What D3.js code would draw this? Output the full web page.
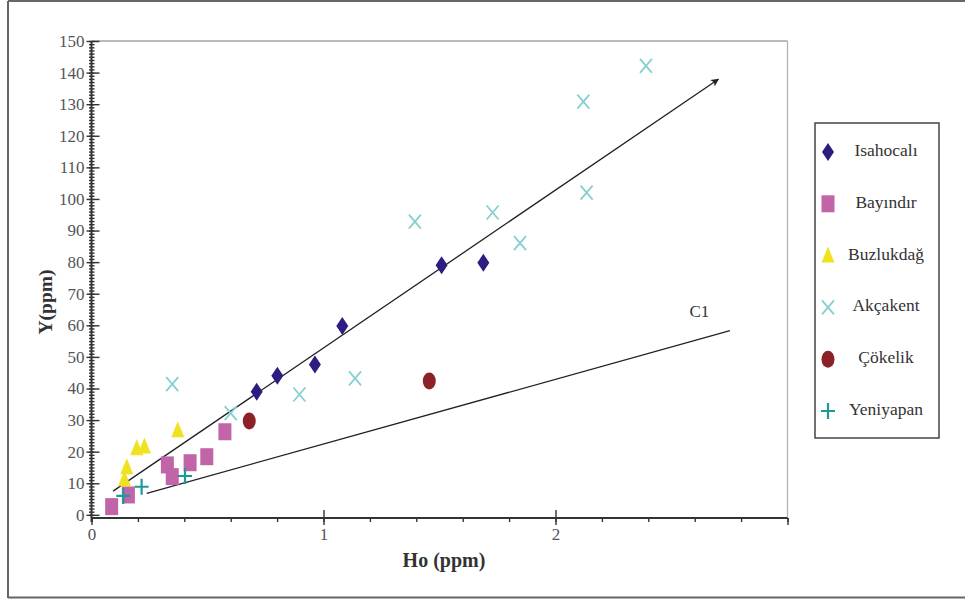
<!DOCTYPE html>
<html>
<head>
<meta charset="utf-8">
<script src="https://cdn.jsdelivr.net/npm/d3@7"></script>
<style>
  html, body { margin: 0; padding: 0; background: #fff; }
  svg { display: block; }
  text { font-family: "Liberation Serif", "Times New Roman", serif; }
</style>
</head>
<body>
<svg id="chart" width="965" height="599"></svg>
<script>
// ---- data (Ho ppm, Y ppm) ----
const isahocali = [[0.712, 39.0], [0.801, 44.0], [0.963, 47.6], [1.081, 59.8], [1.509, 79.0], [1.689, 79.8]];
const bayindir = [[0.087, 2.6], [0.159, 6.3], [0.327, 15.8], [0.348, 12.1], [0.425, 16.5], [0.497, 18.4], [0.575, 26.3]];
const buzlukdag = [[0.142, 11.3], [0.152, 15.1], [0.195, 21.1], [0.228, 21.6], [0.372, 26.8]];
const akcakent = [[0.348, 41.4], [0.600, 32.2], [0.896, 38.1], [1.136, 43.2], [1.394, 92.8], [1.729, 95.7], [1.847, 86.0], [2.120, 130.8], [2.134, 102.0], [2.390, 142.1]];
const cokelik = [[0.680, 29.7], [1.456, 42.4]];
const yeniyapan = [[0.137, 6.0], [0.216, 8.9], [0.403, 12.3]];
const trendArrow = [[0.093, 7.5], [2.702, 137.9]];
const c1Line = [[0.238, 6.8], [2.752, 58.3]];
const c1Label = { x: 2.62, y: 64, text: "C1" };
const seriesNames = ["Isahocalı", "Bayındır", "Buzlukdağ", "Akçakent", "Çökelik", "Yeniyapan"];
const xTickLabels = [0, 1, 2];
const yTickLabels = [0, 10, 20, 30, 40, 50, 60, 70, 80, 90, 100, 110, 120, 130, 140, 150];
const xTitle = "Ho (ppm)";
const yTitle = "Y(ppm)";

// ---- styles ----
const colors = {
  "Isahocalı": "#2e1c80",
  "Bayındır": "#c264a8",
  "Buzlukdağ": "#f0e21e",
  "Akçakent": "#86d0d0",
  "Çökelik": "#8c2228",
  "Yeniyapan": "#1e9898"
};

const svg = d3.select("#chart");
const x = d3.scaleLinear().domain([0, 3]).range([91.5, 787.5]);
const y = d3.scaleLinear().domain([-1, 150]).range([518, 41]);

// outer border
svg.append("line").attr("x1", 8).attr("x2", 965).attr("y1", 1).attr("y2", 1).attr("stroke", "#666").attr("stroke-width", 2);
svg.append("line").attr("x1", 8).attr("x2", 8).attr("y1", 1).attr("y2", 598).attr("stroke", "#666").attr("stroke-width", 2);
svg.append("line").attr("x1", 8).attr("x2", 965).attr("y1", 597.5).attr("y2", 597.5).attr("stroke", "#666").attr("stroke-width", 2);

// plot frame (top & right)
svg.append("line").attr("x1", x(0)).attr("x2", x(3)).attr("y1", y(150)).attr("y2", y(150)).attr("stroke", "#9aa6ac").attr("stroke-width", 1.3);
svg.append("line").attr("x1", x(3)).attr("x2", x(3)).attr("y1", y(150)).attr("y2", y(-1)).attr("stroke", "#aab4ba").attr("stroke-width", 1.3);

const axisColor = "#333";
// y axis
const yMinor = svg.append("g").attr("transform", `translate(${x(0)},0)`)
  .call(d3.axisLeft(y).tickValues(d3.range(0, 151, 1)).tickSize(2.5).tickFormat(""));
const yMinorIn = svg.append("g").attr("transform", `translate(${x(0)},0)`)
  .call(d3.axisRight(y).tickValues(d3.range(0, 151, 1)).tickSize(3).tickFormat(""));
const yMajor = svg.append("g").attr("transform", `translate(${x(0)},0)`)
  .call(d3.axisLeft(y).tickValues(yTickLabels).tickSize(5).tickPadding(2));
const yMajorIn = svg.append("g").attr("transform", `translate(${x(0)},0)`)
  .call(d3.axisRight(y).tickValues(yTickLabels).tickSize(8).tickFormat(""));
[yMinor, yMinorIn, yMajor, yMajorIn].forEach(g => {
  g.select(".domain").remove();
  g.selectAll(".tick line").attr("stroke", axisColor).attr("stroke-width", 1.4);
});
yMajor.selectAll(".tick text").attr("fill", "#555").style("font-size", "17px").style("font-family", "Liberation Serif, serif");
svg.append("line").attr("x1", x(0)).attr("x2", x(0)).attr("y1", y(150)).attr("y2", y(-1) + 4).attr("stroke", axisColor).attr("stroke-width", 2);

// x axis
const xMinor = svg.append("g").attr("transform", `translate(0,${y(-1)})`)
  .call(d3.axisBottom(x).tickValues(d3.range(0, 3.01, 0.2)).tickSize(4).tickFormat(""));
const xMajor = svg.append("g").attr("transform", `translate(0,${y(-1)})`)
  .call(d3.axisBottom(x).tickValues([0, 1, 2, 3]).tickSize(7).tickPadding(3).tickFormat(d => xTickLabels.includes(d) ? d : ""));
const xMajorIn = svg.append("g").attr("transform", `translate(0,${y(-1)})`)
  .call(d3.axisTop(x).tickValues([1, 2]).tickSize(8).tickFormat(""));
[xMinor, xMajor, xMajorIn].forEach(g => {
  g.select(".domain").remove();
  g.selectAll(".tick line").attr("stroke", axisColor).attr("stroke-width", 1.4);
});
xMajor.selectAll(".tick text").attr("fill", "#555").style("font-size", "17px").style("font-family", "Liberation Serif, serif");
svg.append("line").attr("x1", x(0)).attr("x2", x(3)).attr("y1", y(-1)).attr("y2", y(-1)).attr("stroke", axisColor).attr("stroke-width", 2);

// axis titles
svg.append("text").attr("x", 444).attr("y", 567).attr("text-anchor", "middle")
  .attr("fill", "#333").style("font-size", "20px").style("font-weight", "bold").text(xTitle);
svg.append("text").attr("transform", "translate(52,302) rotate(-90)").attr("text-anchor", "middle")
  .attr("fill", "#333").style("font-size", "19.5px").style("font-weight", "bold").text(yTitle);

// reference lines
const defs = svg.append("defs");
defs.append("marker").attr("id", "arrow").attr("viewBox", "0 0 10 10").attr("refX", 9).attr("refY", 5)
  .attr("markerWidth", 10).attr("markerHeight", 8).attr("markerUnits", "userSpaceOnUse").attr("orient", "auto")
  .append("path").attr("d", "M0,0 L10,5 L0,10 L2.5,5 Z").attr("fill", "#222");
const lineGen = d3.line().x(d => x(d[0])).y(d => y(d[1]));
svg.append("path").attr("d", lineGen(trendArrow)).attr("fill", "none").attr("stroke", "#222").attr("stroke-width", 1.3).attr("marker-end", "url(#arrow)");
svg.append("path").attr("d", lineGen(c1Line)).attr("fill", "none").attr("stroke", "#222").attr("stroke-width", 1.3);
svg.append("text").attr("x", x(c1Label.x)).attr("y", y(c1Label.y)).attr("text-anchor", "middle").attr("dominant-baseline", "middle")
  .attr("fill", "#333").style("font-size", "17px").text(c1Label.text);

// markers
function drawSymbol(g, name, cx, cy) {
  const c = colors[name];
  if (name === "Isahocalı") {
    g.append("path").attr("d", `M${cx},${cy - 9} L${cx + 6},${cy} L${cx},${cy + 9} L${cx - 6},${cy} Z`).attr("fill", c);
  } else if (name === "Bayındır") {
    g.append("rect").attr("x", cx - 6.5).attr("y", cy - 8.5).attr("width", 13).attr("height", 17).attr("fill", c);
  } else if (name === "Buzlukdağ") {
    g.append("path").attr("d", `M${cx},${cy - 9} L${cx + 6.5},${cy + 7} L${cx - 6.5},${cy + 7} Z`).attr("fill", c);
  } else if (name === "Akçakent") {
    g.append("path").attr("d", `M${cx - 6},${cy - 7} L${cx + 6},${cy + 7} M${cx + 6},${cy - 7} L${cx - 6},${cy + 7}`)
      .attr("stroke", c).attr("stroke-width", 1.8).attr("fill", "none");
  } else if (name === "Çökelik") {
    g.append("ellipse").attr("cx", cx).attr("cy", cy).attr("rx", 6.5).attr("ry", 8.5).attr("fill", c);
  } else if (name === "Yeniyapan") {
    g.append("path").attr("d", `M${cx - 7},${cy} L${cx + 7},${cy} M${cx},${cy - 8} L${cx},${cy + 8}`)
      .attr("stroke", c).attr("stroke-width", 2.2).attr("fill", "none");
  }
}
const seriesData = [isahocali, bayindir, buzlukdag, akcakent, cokelik, yeniyapan];
const pts = svg.append("g");
seriesNames.forEach((name, i) => {
  seriesData[i].forEach(d => drawSymbol(pts, name, x(d[0]), y(d[1])));
});

// legend
const lg = svg.append("g");
lg.append("rect").attr("x", 815).attr("y", 123).attr("width", 124).attr("height", 315)
  .attr("fill", "#fff").attr("stroke", "#444").attr("stroke-width", 1.5);
const legendY = d3.scalePoint().domain(seriesNames).range([152, 411]);
seriesNames.forEach(name => {
  const cy = legendY(name);
  drawSymbol(lg, name, 828, cy);
  lg.append("text").attr("x", 886).attr("y", cy).attr("text-anchor", "middle").attr("dominant-baseline", "middle")
    .attr("fill", "#333").style("font-size", "17.5px").text(name);
});
</script>
</body>
</html>
